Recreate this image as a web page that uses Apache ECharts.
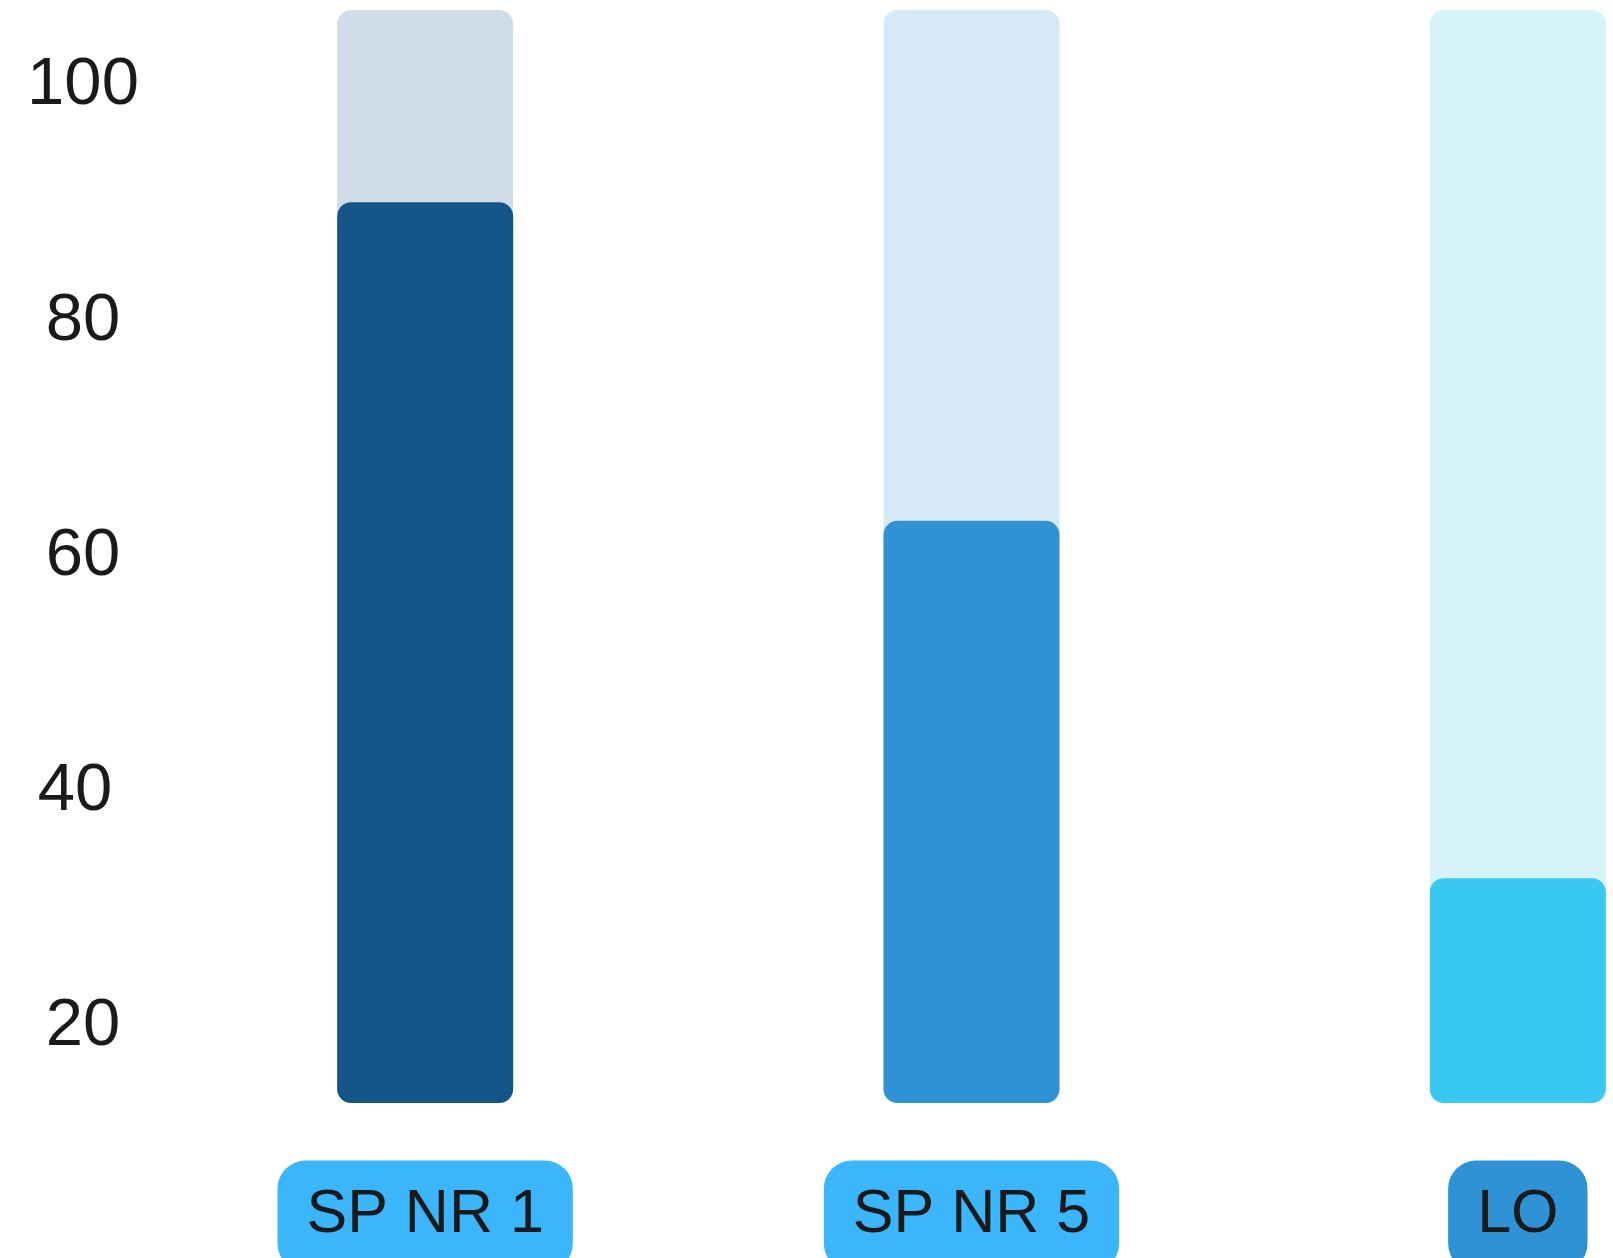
<!DOCTYPE html>
<html>
<head>
<meta charset="utf-8">
<script src="https://cdn.jsdelivr.net/npm/echarts@6/dist/echarts.min.js"></script>
<style>
html,body{margin:0;padding:0;background:#fff;}
#chart{width:1613px;height:1258px;}
</style>
</head>
<body>
<div id="chart"></div>
<script>
// Data
const categories = ['SP NR 1', 'SP NR 5', 'LO'];
const values = [89.6, 62.5, 32.1];
const barColors = ['#165588', '#2e92d5', '#39c8f0'];
const trackColors = ['#d0dde8', '#d5e9f6', '#d6f3fa'];
const labelColors = ['#3bb6fd', '#3bb6fd', '#2e92d5'];
const tickValues = [20, 40, 60, 80, 100];
const yMin = 12.98;
const yMax = 105.95;

const chart = echarts.init(document.getElementById('chart'), null, {renderer: 'canvas'});

const rich = {};
labelColors.forEach((c, i) => {
  rich['p' + i] = {
    backgroundColor: c,
    borderRadius: 28,
    padding: [24, 29, 26, 29],
    lineHeight: 60,
    fontSize: 61,
    fontFamily: 'Liberation Sans',
    color: '#1a1a1a'
  };
});

chart.setOption({
  animation: false,
  backgroundColor: '#ffffff',
  grid: {
    left: 152,
    right: -178,
    top: 10,
    bottom: 155,
    containLabel: false,
    outerBoundsMode: 'none'
  },
  xAxis: {
    type: 'category',
    data: categories,
    axisLine: {show: false},
    axisTick: {show: false},
    splitLine: {show: false},
    axisLabel: {
      margin: 83,
      interval: 0,
      formatter: function (v, i) { return '{p' + i + '|' + v + '}'; },
      rich: rich
    }
  },
  yAxis: {
    type: 'value',
    min: yMin,
    max: yMax,
    axisLine: {show: false},
    axisTick: {show: false},
    splitLine: {show: false},
    axisLabel: {
      customValues: tickValues,
      align: 'center',
      margin: 69,
      fontSize: 67,
      fontFamily: 'Liberation Sans',
      color: '#1a1a1a',
      padding: [12, 0, 0, 0],
      formatter: function (v) { return v === 40 ? '{s|40}' : String(v); },
      rich: {
        s: {fontSize: 67, fontFamily: 'Liberation Sans', color: '#1a1a1a', padding: [0, 16, 0, 0]}
      }
    }
  },
  series: [
    {
      type: 'bar',
      barWidth: 176,
      barGap: '-100%',
      silent: true,
      data: categories.map((c, i) => ({
        value: yMax,
        itemStyle: {color: trackColors[i], borderRadius: 14}
      })),
      z: 1
    },
    {
      type: 'bar',
      barWidth: 176,
      data: values.map((v, i) => ({
        value: v,
        itemStyle: {color: barColors[i], borderRadius: 14}
      })),
      z: 2
    }
  ]
});
</script>
</body>
</html>
